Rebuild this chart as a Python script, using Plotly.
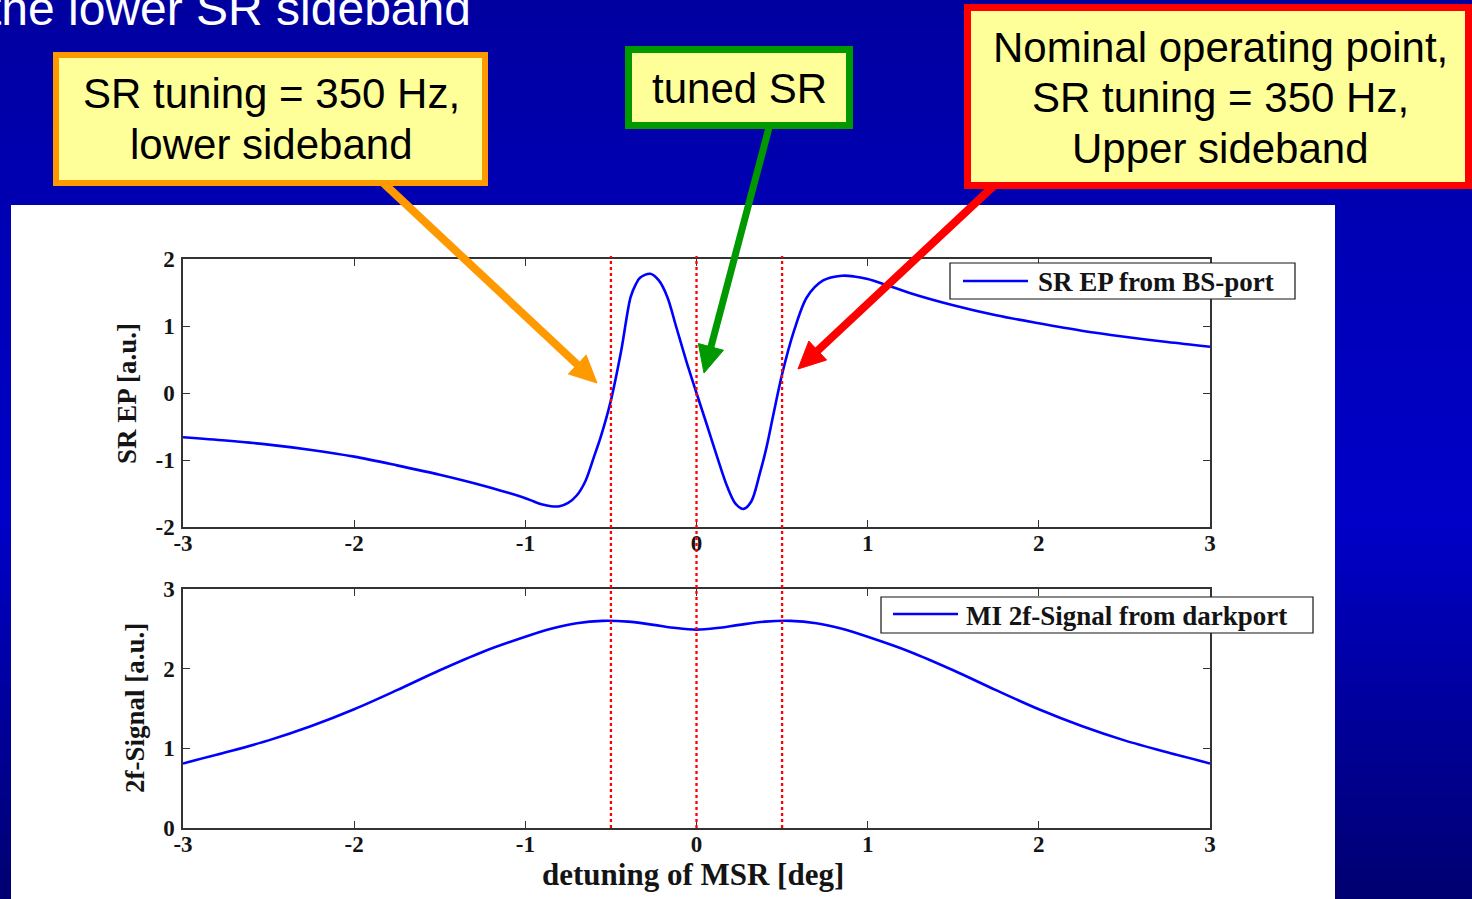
import math
import plotly.graph_objects as go

W, H = 1472, 899

# ---------------- data ----------------
detuning_top = [-3, -2.75, -2.5, -2.25, -2, -1.75, -1.5, -1.25, -1.1, -1.0,
                -0.95, -0.9, -0.85, -0.8, -0.75, -0.7, -0.65, -0.6, -0.56, -0.5,
                -0.44, -0.385, -0.355, -0.33, -0.27, -0.22, -0.17, -0.12, -0.06, 0,
                0.06, 0.12, 0.18, 0.23, 0.275, 0.32, 0.37, 0.41, 0.45, 0.5,
                0.57, 0.645, 0.74, 0.85, 0.92, 1.0, 1.1, 1.25, 1.5, 1.75,
                2.0, 2.25, 2.5, 2.75, 3.0]
sr_ep = [-0.66, -0.71, -0.77, -0.85, -0.95, -1.08, -1.22, -1.38, -1.49, -1.57,
         -1.62, -1.665, -1.69, -1.69, -1.64, -1.53, -1.32, -0.96, -0.66, -0.11,
         0.63, 1.43, 1.62, 1.72, 1.78, 1.68, 1.43, 1.0, 0.48, 0.0,
         -0.47, -0.95, -1.40, -1.66, -1.73, -1.62, -1.20, -0.80, -0.31, 0.28,
         0.93, 1.43, 1.68, 1.75, 1.74, 1.70, 1.62, 1.49, 1.31, 1.16,
         1.04, 0.93, 0.84, 0.76, 0.69]

detuning_bottom = [-3, -2.75, -2.5, -2.25, -2, -1.75, -1.5, -1.25, -1, -0.85,
                   -0.7, -0.55, -0.4, -0.25, -0.12, 0, 0.12, 0.25, 0.4, 0.55,
                   0.7, 0.85, 1, 1.25, 1.5, 1.75, 2, 2.25, 2.5, 2.75, 3]
mi_2f = [0.81, 0.95, 1.10, 1.28, 1.49, 1.73, 1.98, 2.21, 2.40, 2.50,
         2.57, 2.60, 2.59, 2.55, 2.51, 2.49, 2.51, 2.55, 2.59, 2.60,
         2.57, 2.50, 2.40, 2.21, 1.98, 1.73, 1.49, 1.28, 1.10, 0.95, 0.81]

marker_detunings = [-0.5, 0.0, 0.5]
x_ticks = [-3, -2, -1, 0, 1, 2, 3]
x_tick_labels = ["-3", "-2", "-1", "0", "1", "2", "3"]
y_ticks_top = [-2, -1, 0, 1, 2]
y_tick_labels_top = ["-2", "-1", "0", "1", "2"]
y_ticks_bottom = [0, 1, 2, 3]
y_tick_labels_bottom = ["0", "1", "2", "3"]

legend_top = "SR EP from BS-port"
legend_bottom = "MI 2f-Signal from darkport"
ytitle_top = "SR EP [a.u.]"
ytitle_bottom = "2f-Signal [a.u.]"
xtitle = "detuning of MSR [deg]"
slide_title = "the lower SR sideband"
box_lower = ["SR tuning = 350 Hz,", "lower sideband"]
box_tuned = ["tuned SR"]
box_upper = ["Nominal operating point,", "SR tuning = 350 Hz,", "Upper sideband"]

# ---------------- helpers ----------------
def px(x):
    return x / W

def py(y):
    return 1 - y / H

SERIF = "Liberation Serif"
SANS = "Liberation Sans"
INK = "#141414"
AXC = "#333333"

fig = go.Figure()
fig.add_trace(go.Scatter(x=detuning_top, y=sr_ep, mode="lines", name=legend_top,
                         line=dict(color="#0000FF", width=2.6, shape="spline", smoothing=0.9),
                         xaxis="x", yaxis="y", showlegend=False, hoverinfo="skip"))
fig.add_trace(go.Scatter(x=detuning_bottom, y=mi_2f, mode="lines", name=legend_bottom,
                         line=dict(color="#0000FF", width=2.6, shape="spline", smoothing=0.9),
                         xaxis="x2", yaxis="y2", showlegend=False, hoverinfo="skip"))

shapes = []

# background gradient (stripes)
stops = [(0, 160), (250, 182), (520, 200), (899, 112)]
def blue_at(y):
    for (y0, c0), (y1, c1) in zip(stops[:-1], stops[1:]):
        if y0 <= y <= y1:
            return c0 + (c1 - c0) * (y - y0) / (y1 - y0)
    return stops[-1][1]

step = 6
for y in range(0, H, step):
    b = int(round(blue_at(y + step / 2)))
    shapes.append(dict(type="rect", xref="paper", yref="paper", layer="below",
                       x0=0, x1=1, y0=py(y + step + 0.5), y1=py(y),
                       fillcolor=f"rgb(0,0,{b})", line=dict(width=0)))

# white chart panel
shapes.append(dict(type="rect", xref="paper", yref="paper", layer="below",
                   x0=px(11), x1=px(1335), y0=py(899), y1=py(205),
                   fillcolor="#FFFFFF", line=dict(width=0)))

# red dotted marker lines
for d in marker_detunings:
    shapes.append(dict(type="line", xref="x", yref="paper", layer="above",
                       x0=d, x1=d, y0=py(828), y1=py(256),
                       line=dict(color="#FF0000", width=2.3, dash="dot")))

# legend boxes
def legend_box(x0, x1, y0, y1, lx0, lx1, ly):
    shapes.append(dict(type="rect", xref="paper", yref="paper", layer="above",
                       x0=px(x0), x1=px(x1), y0=py(y1), y1=py(y0),
                       fillcolor="#FFFFFF", line=dict(color=INK, width=1.2)))
    shapes.append(dict(type="line", xref="paper", yref="paper", layer="above",
                       x0=px(lx0), x1=px(lx1), y0=py(ly), y1=py(ly),
                       line=dict(color="#0000FF", width=2.6)))

legend_box(950, 1295, 263, 299, 963, 1028, 281)
legend_box(881, 1313, 597, 633, 893, 958, 614)

# arrows
def arrow(tail, tip, color, width=8, L=27, hw=13):
    dx, dy = tip[0] - tail[0], tip[1] - tail[1]
    n = math.hypot(dx, dy)
    ux, uy = dx / n, dy / n
    bx, by = tip[0] - L * ux, tip[1] - L * uy
    nx, ny = -uy, ux
    shapes.append(dict(type="line", xref="paper", yref="paper", layer="above",
                       x0=px(tail[0]), y0=py(tail[1]),
                       x1=px(bx + 3 * ux), y1=py(by + 3 * uy),
                       line=dict(color=color, width=width)))
    p1 = (bx + hw * nx, by + hw * ny)
    p2 = (bx - hw * nx, by - hw * ny)
    path = (f"M{px(tip[0])},{py(tip[1])} L{px(p1[0])},{py(p1[1])} "
            f"L{px(p2[0])},{py(p2[1])} Z")
    shapes.append(dict(type="path", xref="paper", yref="paper", layer="above",
                       path=path, fillcolor=color, line=dict(color=color, width=1)))

arrow((378, 178), (597, 383), "#FF9900")
arrow((771, 120), (704, 373), "#009900", width=7)
arrow((1000, 180), (798, 369), "#FF0000")

# callout boxes
def callout(x0, x1, y0, y1, color, bw):
    shapes.append(dict(type="rect", xref="paper", yref="paper", layer="above",
                       x0=px(x0 + bw / 2), x1=px(x1 - bw / 2),
                       y0=py(y1 - bw / 2), y1=py(y0 + bw / 2),
                       fillcolor="#FFFF99", line=dict(color=color, width=bw)))

callout(53, 488, 52, 186, "#FF9900", 6)
callout(625, 853, 46, 129, "#009900", 7)
callout(964, 1472, 4, 189, "#FF0000", 7)

annotations = []

def text(x, y, s, size, family, color, anchor="center", angle=0, weight="normal"):
    annotations.append(dict(x=px(x), y=py(y), xref="paper", yref="paper",
                            text=s, showarrow=False, xanchor=anchor, yanchor="middle",
                            textangle=angle,
                            font=dict(size=size, family=family, color=color, weight=weight)))

# slide title (partially cut off at the page edge, as in the slide)
text(-14, 9, slide_title, 48, SANS, "#FFFFFF", anchor="left")

# callout texts
def lines_at(cx, baselines, lines, size=42):
    for b, s in zip(baselines, lines):
        text(cx, b - 0.3465 * size, s, size, SANS, "#000000")

lines_at(271, [108, 159], box_lower)
lines_at(740, [103], box_tuned)
lines_at(1220, [62, 112, 163], box_upper)

# legend texts
text(1036, 282, legend_top, 27, SERIF, INK, anchor="left", weight="bold")
text(964, 616, legend_bottom, 27, SERIF, INK, anchor="left", weight="bold")

# axis titles
text(127, 393, ytitle_top, 27, SERIF, INK, angle=-90, weight="bold")
text(135, 708, ytitle_bottom, 27, SERIF, INK, angle=-90, weight="bold")
text(693, 874, xtitle, 31, SERIF, INK, weight="bold")

xdom = [px(183), px(1210)]
tickfont = dict(family=SERIF, size=23, color=INK, weight="bold")
axis_common = dict(showline=True, linecolor=AXC, linewidth=1.5, mirror="allticks",
                   ticks="inside", ticklen=7, tickwidth=1.2, tickcolor=AXC,
                   showgrid=False, zeroline=False, tickfont=tickfont, automargin=False)

fig.update_layout(
    width=W, height=H,
    margin=dict(l=0, r=0, t=0, b=0, pad=0, autoexpand=False),
    paper_bgcolor="#0000A8",
    plot_bgcolor="rgba(0,0,0,0)",
    showlegend=False,
    xaxis=dict(domain=xdom, range=[-3, 3], tickvals=x_ticks, ticktext=x_tick_labels,
               anchor="y", ticklabelstandoff=-5, **axis_common),
    yaxis=dict(domain=[py(527), py(259)], range=[-2, 2], tickvals=y_ticks_top,
               ticktext=y_tick_labels_top, anchor="x", ticklabelstandoff=2, **axis_common),
    xaxis2=dict(domain=xdom, range=[-3, 3], tickvals=x_ticks, ticktext=x_tick_labels,
                anchor="y2", ticklabelstandoff=-5, **axis_common),
    yaxis2=dict(domain=[py(828), py(589)], range=[0, 3], tickvals=y_ticks_bottom,
                ticktext=y_tick_labels_bottom, anchor="x2", ticklabelstandoff=2, **axis_common),
    shapes=shapes,
    annotations=annotations,
)

fig.write_html("out.html",
               config={"displayModeBar": False},
               post_script="document.body.style.margin='0';document.body.style.overflow='hidden';")
